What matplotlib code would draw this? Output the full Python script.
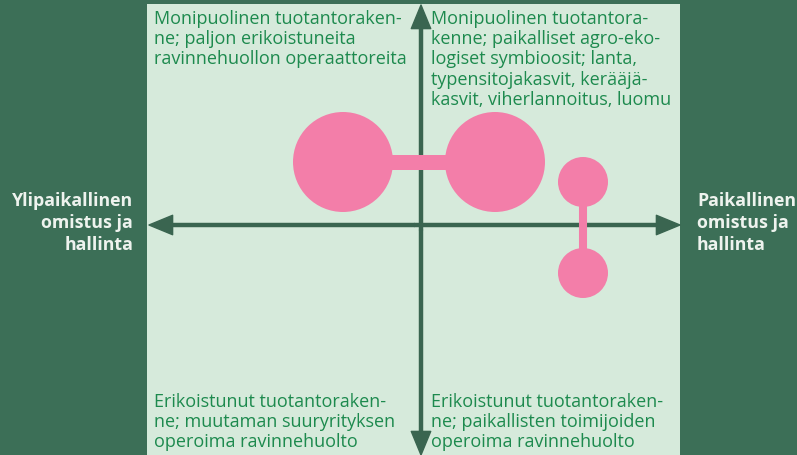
import matplotlib.pyplot as plt
from matplotlib.patches import Circle, Rectangle, FancyArrowPatch

# conceptual positions (units: x = local ownership, y = diversified production)
circle_x = [-0.78, 0.74, 1.62, 1.62]
circle_y = [0.63, 0.63, 0.43, -0.48]
circle_r = [0.50, 0.50, 0.25, 0.25]
links = [(0, 1, 10.8), (2, 3, 5.8)]  # pairs of circles joined by a bar, bar width in pt

quadrant_texts = [
    "Monipuolinen tuotantoraken-\nne; paljon erikoistuneita\nravinnehuollon operaattoreita",
    "Monipuolinen tuotantora-\nkenne; paikalliset agro-eko-\nlogiset symbioosit; lanta,\ntypensitojakasvit, kerääjä-\nkasvit, viherlannoitus, luomu",
    "Erikoistunut tuotantoraken-\nne; muutaman suuryrityksen\noperoima ravinnehuolto",
    "Erikoistunut tuotantoraken-\nne; paikallisten toimijoiden\noperoima ravinnehuolto",
]
left_label = "Ylipaikallinen\nomistus ja\nhallinta"
right_label = "Paikallinen\nomistus ja\nhallinta"

BG = '#3c6f57'
PANEL = '#d6eadb'
AXIS = '#3a6550'
TEXT = '#1d8a4e'
PINK = '#f37ea9'

plt.rcParams['font.family'] = ['Open Sans', 'DejaVu Sans']

fig = plt.figure(figsize=(7.97, 4.55), dpi=100, facecolor=BG)
ax = fig.add_axes([0, 0, 1, 1])
ax.set_xlim(-4.21, 3.76)
ax.set_ylim(-2.30, 2.25)
ax.set_aspect('equal')
ax.axis('off')

x0, x1, y0, y1 = -2.74, 2.59, -2.30, 2.21
ax.add_patch(Rectangle((x0, y0), x1 - x0, y1 - y0, facecolor=PANEL, edgecolor='none', zorder=0))

# axes arrows
style = 'simple,head_length=17,head_width=14,tail_width=2.2'
for (a, b) in [((x0 + 0.02, 0), (x1, 0)), ((0, y1 - 0.01), (0, y0))]:
    for start, end in [(a, b), (b, a)]:
        mid = ((start[0] + end[0]) / 2, (start[1] + end[1]) / 2)
        ax.add_patch(FancyArrowPatch(mid, end, arrowstyle=style, color=AXIS,
                                     shrinkA=0, shrinkB=0, mutation_scale=1, zorder=1))

# bubbles and connectors
for i, j, w in links:
    ax.plot([circle_x[i], circle_x[j]], [circle_y[i], circle_y[j]], color=PINK,
            lw=w, solid_capstyle='butt', zorder=2)
for cx, cy, r in zip(circle_x, circle_y, circle_r):
    ax.add_patch(Circle((cx, cy), r, facecolor=PINK, edgecolor='none', zorder=3))

# quadrant descriptions
pos = [(-2.67, 2.15, 'top'), (0.10, 2.15, 'top'), (-2.67, -2.26, 'bottom'), (0.10, -2.26, 'bottom')]
for txt, (tx, ty, va) in zip(quadrant_texts, pos):
    ax.text(tx, ty, txt, color=TEXT, fontsize=13, va=va, ha='left', linespacing=1.16, zorder=4)

ax.text(-2.88, 0.02, left_label, color='#eef3ee', fontsize=12.8, fontweight='bold',
        ha='right', va='center', linespacing=1.28)
ax.text(2.76, 0.02, right_label, color='#eef3ee', fontsize=12.8, fontweight='bold',
        ha='left', va='center', linespacing=1.28)

fig.savefig('out.png', dpi=100, facecolor=BG)
